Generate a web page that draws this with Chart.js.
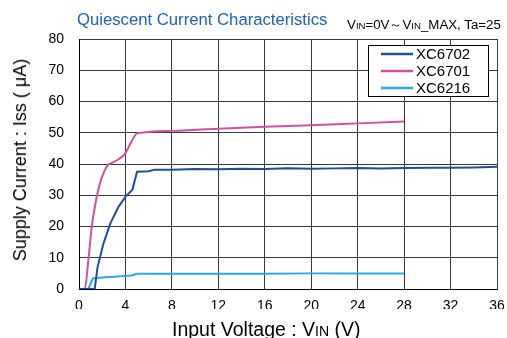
<!DOCTYPE html>
<html>
<head>
<meta charset="utf-8">
<script src="https://cdn.jsdelivr.net/npm/chart.js@4/dist/chart.umd.min.js"></script>
<style>
  body { margin: 0; background: #fff; }
  #wrap { position: relative; width: 507px; height: 338px; overflow: hidden; font-family: "Liberation Sans", Arial, sans-serif; }
  #chart-area { position: absolute; left: 0; top: 0; }
  .lbl { position: absolute; white-space: nowrap; color: #000; line-height: 1; }
  .sub { font-size: 0.72em; }
</style>
</head>
<body>
<div id="wrap">
  <canvas id="chart-area" width="507" height="338"></canvas>
  <div class="lbl" style="left:77px;top:12px;font-size:16.7px;color:#2163b4;">Quiescent Current Characteristics</div>
  <div class="lbl" style="left:347px;top:18px;font-size:13.3px;">V<span class="sub">IN</span>=0V～V<span class="sub">IN</span>_MAX, Ta=25</div>
  <div class="lbl" style="left:172px;top:320px;font-size:19.5px;">Input Voltage : V<span class="sub">IN</span> (V)</div>
  <div class="lbl" style="left:20px;top:160px;font-size:18px;transform:translate(-50%,-50%) rotate(-90deg);">Supply Current : Iss ( μA)</div>
</div>
<script>
// XC6702
const vin6702 = [0, 1.35, 1.6, 2.1, 2.7, 3.4, 4.0, 4.6, 5.0, 5.5, 6.0, 6.5, 8, 10, 12, 14, 16, 18, 20, 22, 24, 26, 28, 30, 32, 34, 36];
const iss6702 = [0, 0, 7, 14.5, 21, 26.3, 29.5, 31.8, 37.5, 37.6, 37.7, 38.2, 38.2, 38.4, 38.3, 38.5, 38.4, 38.6, 38.5, 38.6, 38.7, 38.6, 38.7, 38.8, 38.8, 38.9, 39.1];
// XC6701
const vin6701 = [0, 0.5, 0.8, 1.1, 1.4, 1.8, 2.2, 2.5, 2.8, 3.4, 4.0, 4.5, 5.0, 8, 12, 16, 20, 24, 28];
const iss6701 = [0, 0, 9, 20, 27, 33.8, 37.8, 39.7, 40.3, 41.5, 43.5, 47, 49.8, 50.6, 51.3, 51.9, 52.4, 53.0, 53.6];
// XC6216
const vin6216 = [0, 0.8, 1.2, 2, 3, 4, 4.5, 5.0, 8, 12, 16, 20, 24, 28];
const iss6216 = [0, 0, 3.4, 3.7, 3.9, 4.2, 4.3, 4.9, 4.9, 4.9, 4.9, 5.0, 5.0, 5.0];

const seriesLabels = ['XC6702', 'XC6701', 'XC6216'];
const xTicksMax = 36;
const yTicksMax = 80;

function toPoints(xs, ys) {
    return xs.map((x, i) => ({x: x, y: ys[i]}));
}

const FONT = '"Liberation Sans", Arial, sans-serif';

// legend box drawn inside the plot, top right
const boxLegend = {
    id: 'boxLegend',
    afterDatasetsDraw(chart) {
        const c = chart.ctx;
        const left = 368, top = 45, w = 120, h = 51;
        c.save();
        c.fillStyle = '#fff';
        c.fillRect(left, top, w, h);
        c.strokeStyle = '#000';
        c.lineWidth = 1;
        c.strokeRect(left + 0.5, top + 0.5, w, h);
        c.font = '15px ' + FONT;
        c.textBaseline = 'middle';
        chart.data.datasets.forEach((ds, i) => {
            const y = top + 9 + i * 17;
            c.strokeStyle = ds.borderColor;
            c.lineWidth = 2.5;
            c.beginPath();
            c.moveTo(left + 13, y);
            c.lineTo(left + 45, y);
            c.stroke();
            c.fillStyle = '#000';
            c.fillText(ds.label, left + 48, y + 1);
        });
        c.restore();
    }
};

ctx = document.getElementById('chart-area').getContext('2d');
new Chart(ctx, {
    type: 'line',
    data: {
        datasets: [{
            label: seriesLabels[0],
            data: toPoints(vin6702, iss6702),
            borderColor: '#1f4e9f',
            borderWidth: 2,
            radius: 0,
            tension: 0
        }, {
            label: seriesLabels[1],
            data: toPoints(vin6701, iss6701),
            borderColor: '#d1519d',
            borderWidth: 2,
            radius: 0,
            cubicInterpolationMode: 'monotone'
        }, {
            label: seriesLabels[2],
            data: toPoints(vin6216, iss6216),
            borderColor: '#28a9e0',
            borderWidth: 2,
            radius: 0,
            tension: 0
        }]
    },
    options: {
        responsive: false,
        animation: false,
        layout: { padding: { left: 0, right: 10, top: 39, bottom: 29 } },
        plugins: {
            legend: { display: false },
            tooltip: { enabled: false }
        },
        scales: {
            x: {
                type: 'linear',
                min: 0,
                max: xTicksMax,
                afterFit: (s) => { s.height = 20; s.paddingLeft = 0; s.paddingRight = 0; },
                ticks: { stepSize: 4, color: '#000', padding: 9, font: { size: 14, family: FONT } },
                grid: { color: '#3a3a3a', lineWidth: 1, drawTicks: false },
                border: { color: '#000', width: 1 }
            },
            y: {
                min: 0,
                max: yTicksMax,
                afterFit: (s) => { s.width = 79; s.paddingTop = 0; s.paddingBottom = 0; },
                ticks: { stepSize: 10, color: '#000', padding: 15, font: { size: 14, family: FONT } },
                grid: { color: '#3a3a3a', lineWidth: 1, drawTicks: false },
                border: { color: '#000', width: 1 }
            }
        }
    },
    plugins: [boxLegend]
});
</script>
</body>
</html>
